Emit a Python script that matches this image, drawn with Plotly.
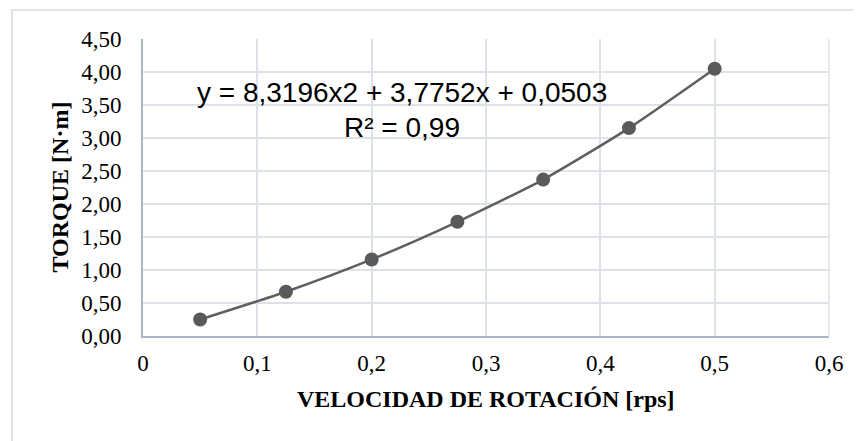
import plotly.graph_objects as go

velocidad = [0.05, 0.125, 0.2, 0.275, 0.35, 0.425, 0.5]
torque = [0.25, 0.67, 1.16, 1.73, 2.37, 3.15, 4.05]

x_tickvals = [0, 0.1, 0.2, 0.3, 0.4, 0.5, 0.6]
x_ticktext = ["0", "0,1", "0,2", "0,3", "0,4", "0,5", "0,6"]
y_tickvals = [0, 0.5, 1.0, 1.5, 2.0, 2.5, 3.0, 3.5, 4.0, 4.5]
y_ticktext = ["0,00", "0,50", "1,00", "1,50", "2,00", "2,50", "3,00", "3,50", "4,00", "4,50"]

equation_text = "y = 8,3196x2 + 3,7752x + 0,0503"
r2_text = "R² = 0,99"
x_title = "VELOCIDAD DE ROTACIÓN [rps]"
y_title = "TORQUE [N·m]"

OFF = 8  # page body margin
W, H = 861 - OFF, 441 - OFF
# plot area in screen pixels: x 143..829, y 39..336
L = 143 - OFF
R = W - (829 - OFF)
T = 39 - OFF
B = H - (336 - OFF)
pw, ph = W - L - R, H - T - B

def px_x(p):  # screen px -> paper
    return (p - OFF - L) / pw

def px_y(p):
    return (H - B - (p - OFF)) / ph

fig = go.Figure()
fig.add_trace(go.Scatter(
    x=velocidad, y=torque, mode="lines+markers",
    line=dict(color="#5f5f5f", width=2.5, shape="spline", smoothing=0.6),
    marker=dict(color="#5a5a5a", size=14),
    showlegend=False, hoverinfo="skip",
))

serif = "Liberation Serif, Times New Roman, serif"
sans = "Liberation Sans, Arial, sans-serif"
grid = "#dde2e9"
axis = "#abb6c8"

fig.update_layout(
    width=W, height=H,
    margin=dict(l=L, r=R, t=T, b=B),
    paper_bgcolor="white", plot_bgcolor="white",
    xaxis=dict(range=[0, 0.6], tickvals=x_tickvals, ticktext=x_ticktext,
               showgrid=True, gridcolor=grid, gridwidth=1.5,
               showline=True, linecolor=axis, linewidth=2,
               zeroline=False, ticks="", ticklabelstandoff=5,
               tickfont=dict(family=serif, size=23, color="#000")),
    yaxis=dict(range=[0, 4.5], tickvals=y_tickvals, ticktext=y_ticktext,
               showgrid=True, gridcolor=grid, gridwidth=1.5,
               showline=True, linecolor=axis, linewidth=2,
               zeroline=False, ticks="", ticklabelstandoff=15,
               tickfont=dict(family=serif, size=23, color="#000")),
    shapes=[
        dict(type="rect", xref="paper", yref="paper",
             x0=px_x(12), x1=px_x(880), y0=px_y(460), y1=px_y(10),
             line=dict(color="#d9d9d9", width=1.5), fillcolor="rgba(0,0,0,0)", layer="below"),
        dict(type="line", xref="paper", yref="paper", x0=1, x1=1, y0=0, y1=1,
             line=dict(color=grid, width=1.5), layer="below"),
    ],
    annotations=[
        dict(text=equation_text, xref="x", yref="y", x=0.2266, y=3.69,
             showarrow=False, xanchor="center", yanchor="middle",
             font=dict(family=sans, size=28, color="#000")),
        dict(text=r2_text, xref="x", yref="y", x=0.2266, y=3.16,
             showarrow=False, xanchor="center", yanchor="middle",
             font=dict(family=sans, size=28, color="#000")),
        dict(text="<b>" + x_title + "</b>", xref="paper", yref="paper",
             x=0.5, y=px_y(399), showarrow=False, xanchor="center", yanchor="middle",
             font=dict(family=serif, size=24, color="#000")),
        dict(text="<b>" + y_title + "</b>", xref="paper", yref="paper",
             x=px_x(59), y=0.5, showarrow=False, xanchor="center", yanchor="middle",
             textangle=-90, font=dict(family=serif, size=24, color="#000")),
    ],
)

fig.write_html("out.html")
